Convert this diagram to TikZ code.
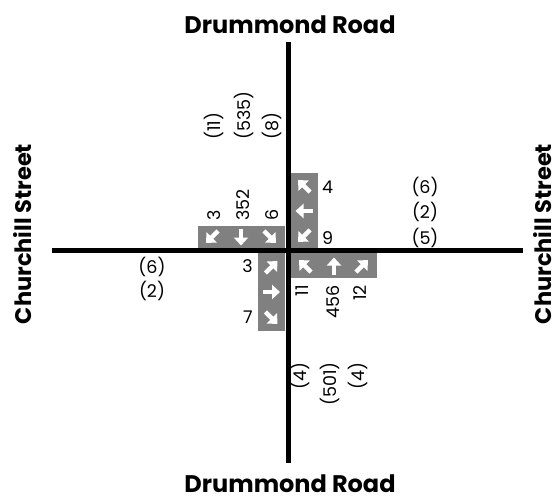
\documentclass[tikz,border=0pt]{standalone}
\usepackage{fontspec}
\setmainfont{Poppins}
\usetikzlibrary{arrows.meta}
\begin{document}
\begin{tikzpicture}[x=1pt,y=-1pt,
  road/.style={line width=5.5pt, black},
  cell/.style={fill=black!50, draw=none},
  num/.style={font=\fontsize{17.5}{20}\selectfont, inner sep=0pt},
  title/.style={font=\fontsize{24}{28}\selectfont\bfseries, inner sep=0pt, anchor=base},
  sidetitle/.style={font=\fontsize{22.5}{26}\selectfont\bfseries, inner sep=0pt},
  mv/.pic={\draw[white, line width=4.4pt, -{Triangle[width=14pt,length=8pt]}] (-8.5,0) -- (8.5,0);}
]
\useasboundingbox (0,0) rectangle (560,501);
% roads
\coordinate (nEnd) at (288.5,42);
\coordinate (sEnd) at (288.5,463);
\coordinate (wEnd) at (52,250.5);
\coordinate (eEnd) at (523,250.5);
% gray boxes
\fill[cell] (198,226) rectangle (285,248);
\fill[cell] (290,173) rectangle (318,248);
\fill[cell] (291,253) rectangle (377,278);
\fill[cell] (258,253) rectangle (285,331);
\draw[road] (nEnd) -- (sEnd);
\draw[road] (wEnd) -- (eEnd);
% movement arrows
\pic[rotate=225] at (212,237) {mv};
\pic[rotate=-90] at (241,237) {mv};
\pic[rotate=-45] at (270,237) {mv};
\pic[rotate=135] at (304,186) {mv};
\pic[rotate=180] at (304,211) {mv};
\pic[rotate=225] at (304,236) {mv};
\pic[rotate=135] at (305,266) {mv};
\pic[rotate=90]  at (334,266) {mv};
\pic[rotate=45]  at (362,266) {mv};
\pic[rotate=45]  at (271.5,267) {mv};
\pic[rotate=0]   at (271.5,292) {mv};
\pic[rotate=-45] at (271.5,318) {mv};
% titles
\node[title] (tN) at (290,33.5) {Drummond Road};
\node[title] (tS) at (290,492) {Drummond Road};
\node[sidetitle, rotate=90] (tW) at (22.5,234) {Churchill Street};
\node[sidetitle, rotate=90] (tE) at (543,234) {Churchill Street};
% southbound counts
\node[num, rotate=90, anchor=west] (sb1) at (214,221) {3};
\node[num, rotate=90, anchor=west] (sb2) at (243.5,221) {352};
\node[num, rotate=90, anchor=west] (sb3) at (272,221) {6};
\node[num, rotate=90, anchor=west] (sp1) at (214,140) {(11)};
\node[num, rotate=90, anchor=west] (sp2) at (243.5,140) {(535)};
\node[num, rotate=90, anchor=west] (sp3) at (272,140) {(8)};
% westbound counts
\node[num, anchor=west] (wb1) at (322,187) {4};
\node[num, anchor=west] (wb3) at (322,238) {9};
\node[num] (wp1) at (425,187) {(6)};
\node[num] (wp2) at (425,212) {(2)};
\node[num] (wp3) at (425,238) {(5)};
% northbound counts
\node[num, rotate=90, anchor=east] (nb1) at (302.5,285) {11};
\node[num, rotate=90, anchor=east] (nb2) at (333,285) {456};
\node[num, rotate=90, anchor=east] (nb3) at (360,285) {12};
\node[num, rotate=90, anchor=east] (np1) at (300,362) {(4)};
\node[num, rotate=90, anchor=east] (np2) at (330,362) {(501)};
\node[num, rotate=90, anchor=east] (np3) at (358,362) {(4)};
% eastbound counts
\node[num, anchor=east] (eb1) at (253,266) {3};
\node[num, anchor=east] (eb3) at (253,317) {7};
\node[num] (ep1) at (152,267) {(6)};
\node[num] (ep2) at (152,291) {(2)};
\end{tikzpicture}
\end{document}
